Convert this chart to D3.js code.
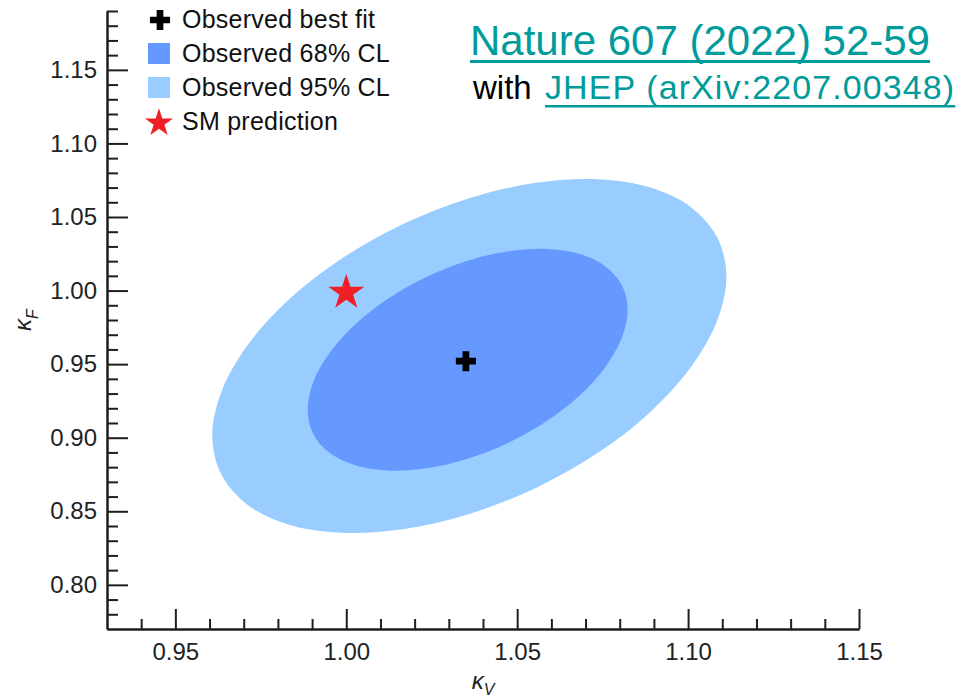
<!DOCTYPE html>
<html>
<head>
<meta charset="utf-8">
<script src="https://cdn.jsdelivr.net/npm/d3@7"></script>
<style>
  html, body { margin: 0; padding: 0; background: #fff; }
  svg { display: block; font-family: "Liberation Sans", Arial, Helvetica, sans-serif; }
</style>
</head>
<body>
<svg id="chart" width="970" height="699"></svg>
<script>
// Coupling modifiers: kappa_V (vector bosons) vs kappa_F (fermions)
const kappaVDomain = [0.93, 1.15];
const kappaFDomain = [0.77, 1.19];
const kappaVMajor = [0.95, 1.00, 1.05, 1.10, 1.15];
const kappaVMinor = [0.94, 0.96, 0.97, 0.98, 0.99, 1.01, 1.02, 1.03, 1.04,
                     1.06, 1.07, 1.08, 1.09, 1.11, 1.12, 1.13, 1.14];
const kappaFMajor = [0.80, 0.85, 0.90, 0.95, 1.00, 1.05, 1.10, 1.15];
const kappaFMinor = [0.78, 0.79, 0.81, 0.82, 0.83, 0.84, 0.86, 0.87, 0.88, 0.89,
                     0.91, 0.92, 0.93, 0.94, 0.96, 0.97, 0.98, 0.99, 1.01, 1.02,
                     1.03, 1.04, 1.06, 1.07, 1.08, 1.09, 1.11, 1.12, 1.13, 1.14,
                     1.16, 1.17, 1.18, 1.19];

// Observed best fit and Standard Model expectation
const bestFit = [1.035, 0.952];
const smPrediction = [1.00, 1.00];

// 68% CL contour, [kappa_V, kappa_F]
const contour68 = [
  [1.0823, 0.9870], [1.0807, 1.0033], [1.0760, 1.0161], [1.0686, 1.0246],
  [1.0589, 1.0283], [1.0476, 1.0268], [1.0355, 1.0203], [1.0234, 1.0092],
  [1.0121, 0.9943], [1.0024, 0.9766], [0.9950, 0.9572], [0.9903, 0.9376],
  [0.9887, 0.9190], [0.9903, 0.9027], [0.9950, 0.8899], [1.0024, 0.8814],
  [1.0121, 0.8777], [1.0234, 0.8792], [1.0355, 0.8857], [1.0476, 0.8968],
  [1.0589, 0.9117], [1.0686, 0.9294], [1.0760, 0.9488], [1.0807, 0.9684]
];

// 95% CL contour, [kappa_V, kappa_F]
const contour95 = [
  [1.1112, 1.0098], [1.1086, 1.0357], [1.1011, 1.0562], [1.0892, 1.0698],
  [1.0736, 1.0756], [1.0555, 1.0732], [1.0360, 1.0628], [1.0165, 1.0451],
  [0.9984, 1.0213], [0.9828, 0.9930], [0.9709, 0.9621], [0.9634, 0.9308],
  [0.9608, 0.9012], [0.9634, 0.8753], [0.9709, 0.8548], [0.9828, 0.8412],
  [0.9984, 0.8354], [1.0165, 0.8378], [1.0360, 0.8482], [1.0555, 0.8659],
  [1.0736, 0.8897], [1.0892, 0.9180], [1.1011, 0.9489], [1.1086, 0.9802]
];

const legendLabels = ["Observed best fit", "Observed 68% CL", "Observed 95% CL", "SM prediction"];
const titleLine1 = "Nature 607 (2022) 52-59";
const titleLine2a = "with ";
const titleLine2b = "JHEP (arXiv:2207.00348)";

const color68 = "#6699ff";
const color95 = "#99ccff";
const colorSM = "#f01f25";
const linkColor = "#009b9b";
const axisColor = "#1e1e1e";

const svg = d3.select("#chart");
svg.append("rect").attr("width", 970).attr("height", 699).attr("fill", "#fff");

const x = d3.scaleLinear().domain(kappaVDomain).range([107, 859]);
const y = d3.scaleLinear().domain(kappaFDomain).range([629, 11]);

// Confidence regions
const contourLine = d3.line()
  .x(d => x(d[0]))
  .y(d => y(d[1]))
  .curve(d3.curveCatmullRomClosed.alpha(0.5));

svg.append("path").attr("d", contourLine(contour95)).attr("fill", color95);
svg.append("path").attr("d", contourLine(contour68)).attr("fill", color68);

// Axes, ticks drawn on the inner side
const fmt = d3.format(".2f");
function styleAxis(g) {
  g.select(".domain").attr("stroke", axisColor).attr("stroke-width", 2);
  g.selectAll(".tick line").attr("stroke", axisColor).attr("stroke-width", 2);
  g.selectAll(".tick text")
    .attr("fill", "#222")
    .attr("font-size", 24)
    .attr("font-family", "\"Liberation Sans\", Arial, Helvetica, sans-serif");
}

svg.append("g")
  .attr("transform", "translate(0,629)")
  .call(d3.axisBottom(x).tickValues(kappaVMinor).tickSize(-10).tickSizeOuter(0).tickFormat(""))
  .call(styleAxis);
svg.append("g")
  .attr("transform", "translate(0,629)")
  .call(d3.axisBottom(x).tickValues(kappaVMajor).tickSize(-20).tickSizeOuter(0).tickPadding(14).tickFormat(fmt))
  .call(styleAxis);

svg.append("g")
  .attr("transform", "translate(107,0)")
  .call(d3.axisLeft(y).tickValues(kappaFMinor).tickSize(-11).tickSizeOuter(0).tickFormat(""))
  .call(styleAxis);
svg.append("g")
  .attr("transform", "translate(107,0)")
  .call(d3.axisLeft(y).tickValues(kappaFMajor).tickSize(-21).tickSizeOuter(0).tickPadding(10).tickFormat(fmt))
  .call(styleAxis);

// Axis titles
const xt = svg.append("text")
  .attr("x", (x.range()[0] + x.range()[1]) / 2)
  .attr("y", 689)
  .attr("text-anchor", "middle")
  .attr("font-style", "italic")
  .attr("font-size", 24)
  .attr("fill", "#222");
xt.append("tspan").text("κ");
xt.append("tspan").attr("dy", 6).attr("font-size", 16).text("V");

const yt = svg.append("text")
  .attr("transform", `translate(31,${(y.range()[0] + y.range()[1]) / 2}) rotate(-90)`)
  .attr("text-anchor", "middle")
  .attr("font-style", "italic")
  .attr("font-size", 24)
  .attr("fill", "#222");
yt.append("tspan").text("κ");
yt.append("tspan").attr("dy", 7).attr("font-size", 16).text("F");

// Markers
const starPath = d3.symbol().type(d3.symbolStar);
const crossPath = d3.symbol().type(d3.symbolCross);

svg.append("path")
  .attr("d", starPath.size(400)())
  .attr("transform", `translate(${x(smPrediction[0])},${y(smPrediction[1]) + 2})`)
  .attr("fill", colorSM);

svg.append("path")
  .attr("d", crossPath.size(225)())
  .attr("transform", `translate(${x(bestFit[0])},${y(bestFit[1])})`)
  .attr("fill", "#000");

// Legend
const legend = svg.append("g").attr("font-size", 25).attr("fill", "#111");
const rowY = [20, 54, 88, 122];
legend.append("path").attr("d", crossPath.size(225)()).attr("transform", `translate(160,${rowY[0]})`).attr("fill", "#000");
legend.append("rect").attr("x", 148).attr("y", rowY[1] - 11).attr("width", 22).attr("height", 21).attr("fill", color68);
legend.append("rect").attr("x", 148).attr("y", rowY[2] - 11).attr("width", 22).attr("height", 21).attr("fill", color95);
legend.append("path").attr("d", starPath.size(245)()).attr("transform", `translate(159,${rowY[3] + 1})`).attr("fill", colorSM);
legendLabels.forEach((label, i) => {
  legend.append("text")
    .attr("x", 182)
    .attr("y", rowY[i] + 8)
    .attr("letter-spacing", 0.25)
    .text(label);
});

// Reference links
const t1 = svg.append("text")
  .attr("x", 470).attr("y", 55)
  .attr("font-size", 42)
  .attr("fill", linkColor)
  .text(titleLine1);
const w1 = t1.node().getComputedTextLength();
svg.append("rect").attr("x", 470).attr("y", 60).attr("width", w1).attr("height", 3).attr("fill", linkColor);

svg.append("text")
  .attr("x", 473).attr("y", 99)
  .attr("font-size", 33)
  .attr("fill", "#000")
  .text(titleLine2a);
const t2b = svg.append("text")
  .attr("x", 545).attr("y", 99)
  .attr("font-size", 34)
  .attr("letter-spacing", 1.1)
  .attr("fill", linkColor)
  .text(titleLine2b);
const w2 = t2b.node().getComputedTextLength();
svg.append("rect").attr("x", 545).attr("y", 105).attr("width", w2).attr("height", 2.5).attr("fill", linkColor);
</script>
</body>
</html>
